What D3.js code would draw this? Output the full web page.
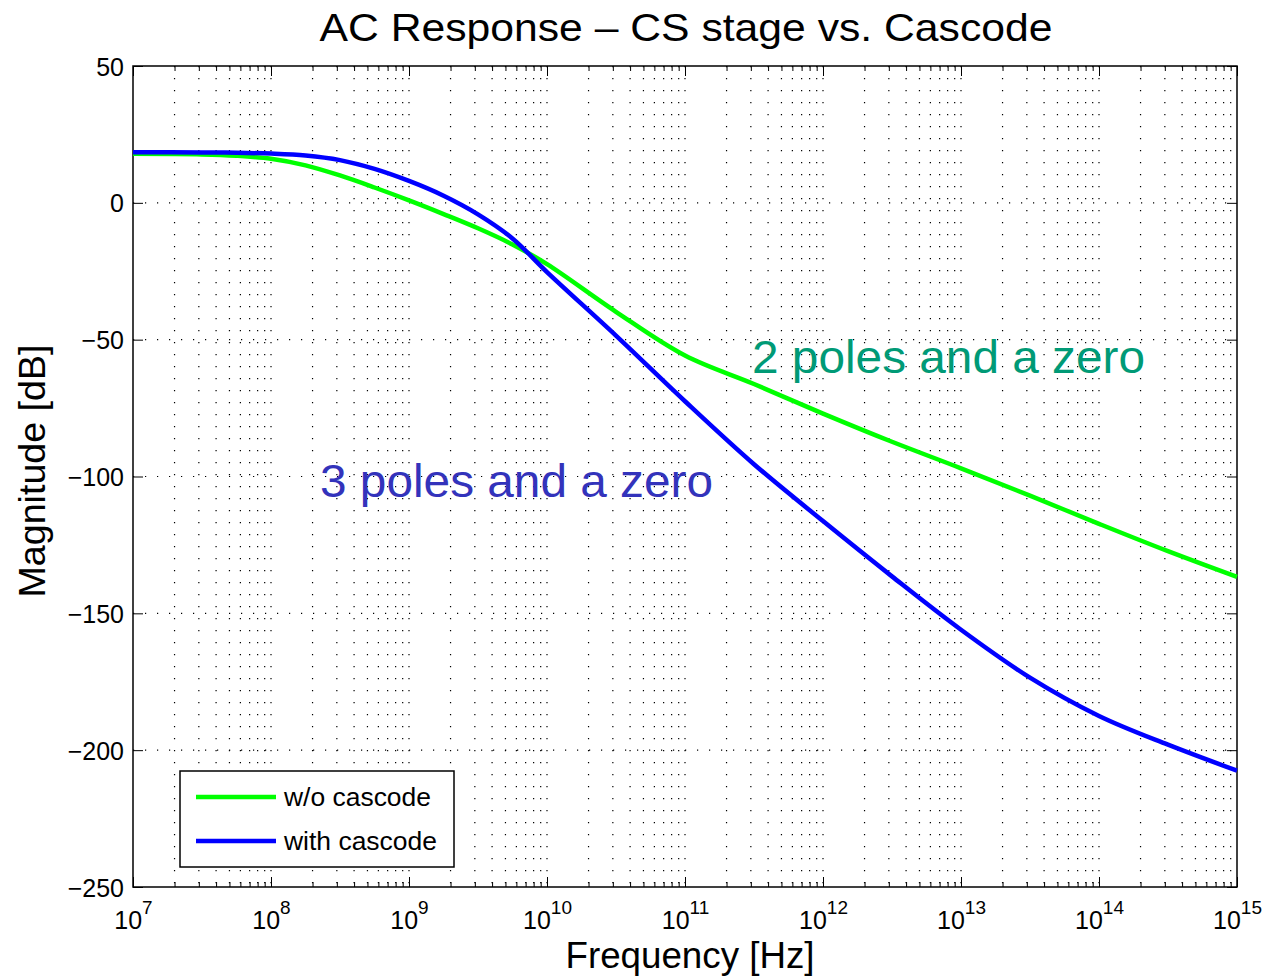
<!DOCTYPE html>
<html lang="en">
<head>
    <meta charset="UTF-8">
    <title>AC Response</title>
    <script src="https://cdn.jsdelivr.net/npm/d3@7"></script>
    <style>
        body { margin: 0; background: #fff; }
        text { font-family: "Liberation Sans", Arial, sans-serif; }
        .ticks path { stroke: none; }
        .ticks line { stroke: #000; stroke-width: 1; }
        .labels path, .labels line { display: none; }
        .labels text { font-size: 25px; fill: #000; }
        .grid line { stroke: #000; stroke-width: 1.2; stroke-dasharray: 1.2,10.8; }
    </style>
</head>
<body>
<script>
    // frequencies [Hz]
    let freq = [1e7, 3.16e7, 5.62e7, 1e8, 1.78e8, 3.16e8, 5.62e8, 1e9, 1.78e9, 3.16e9, 5.62e9, 1e10,
                3.16e10, 1e11, 3.16e11, 1e12, 3.16e12, 1e13, 3.16e13, 1e14, 3.16e14, 1e15]
    let woCascode = [17.9, 17.7, 17.2, 16.1, 13.7, 10.0, 5.6, 0.9, -4.1, -9.3, -15.2, -22.4,
                     -39.8, -55.8, -66.2, -77.0, -87.3, -97.0, -107.0, -117.3, -127.3, -136.7]
    let withCascode = [18.5, 18.4, 18.3, 18.0, 17.3, 15.6, 12.4, 8.0, 2.6, -4.2, -13.0, -25.3,
                       -48.5, -72.5, -95.5, -116.3, -136.5, -156.0, -173.5, -187.5, -198.0, -207.5]
    let seriesNames = ["w/o cascode", "with cascode"]
    let seriesColors = ["#00ff00", "#0000ff"]
    let yTicks = [-250, -200, -150, -100, -50, 0, 50]
    let xTicks = [1e7, 1e8, 1e9, 1e10, 1e11, 1e12, 1e13, 1e14, 1e15]

    let w = 1266, h = 977
    let pLeft = 133, pRight = 1237, pTop = 66, pBottom = 887

    let xScale = d3.scaleLog().domain([1e7, 1e15]).range([pLeft, pRight])
    let yScale = d3.scaleLinear().domain([-250, 50]).range([pBottom, pTop])

    // minor ticks 2..9 in every decade
    let xMinor = []
    for (let e = 7; e < 15; e++) {
        for (let m = 2; m <= 9; m++) xMinor.push(m * Math.pow(10, e))
    }

    let svg = d3.select("body").append("svg")
        .attr("width", w)
        .attr("height", h)

    // grid
    let grid = svg.append("g").attr("class", "grid")
    grid.selectAll("line.v")
        .data(xTicks.concat(xMinor).filter(d => d > 1e7 && d < 1e15))
        .enter().append("line")
        .attr("class", "v")
        .attr("x1", d => xScale(d)).attr("x2", d => xScale(d))
        .attr("y1", pTop).attr("y2", pBottom)
    grid.selectAll("line.h")
        .data(yTicks.filter(d => d > -250 && d < 50))
        .enter().append("line")
        .attr("class", "h")
        .attr("x1", pLeft).attr("x2", pRight)
        .attr("y1", d => yScale(d)).attr("y2", d => yScale(d))

    // inward ticks on all four sides
    svg.append("g").attr("class", "ticks")
        .attr("transform", "translate(0," + pBottom + ")")
        .call(d3.axisBottom(xScale).tickValues(xTicks).tickSize(-10).tickFormat(""))
    svg.append("g").attr("class", "ticks")
        .attr("transform", "translate(0," + pBottom + ")")
        .call(d3.axisBottom(xScale).tickValues(xMinor).tickSize(-5).tickFormat(""))
    svg.append("g").attr("class", "ticks")
        .attr("transform", "translate(0," + pTop + ")")
        .call(d3.axisTop(xScale).tickValues(xTicks).tickSize(-10).tickFormat(""))
    svg.append("g").attr("class", "ticks")
        .attr("transform", "translate(0," + pTop + ")")
        .call(d3.axisTop(xScale).tickValues(xMinor).tickSize(-5).tickFormat(""))
    svg.append("g").attr("class", "ticks")
        .attr("transform", "translate(" + pLeft + ",0)")
        .call(d3.axisLeft(yScale).tickValues(yTicks).tickSize(-10).tickFormat(""))
    svg.append("g").attr("class", "ticks")
        .attr("transform", "translate(" + pRight + ",0)")
        .call(d3.axisRight(yScale).tickValues(yTicks).tickSize(-10).tickFormat(""))

    // tick labels
    svg.append("g").attr("class", "labels")
        .attr("transform", "translate(" + pLeft + ",0)")
        .call(d3.axisLeft(yScale).tickValues(yTicks).tickSize(0).tickPadding(9)
            .tickFormat(d => d < 0 ? "\u2212" + Math.abs(d) : d))
        .selectAll("text").attr("dy", "0.36em")

    let xl = svg.append("g").attr("class", "labels")
        .attr("transform", "translate(0," + pBottom + ")")
        .call(d3.axisBottom(xScale).tickValues(xTicks).tickSize(0).tickPadding(0))
    xl.selectAll("text")
        .attr("y", 42).attr("dy", null)
        .text(null)
        .each(function (d) {
            let t = d3.select(this)
            t.append("tspan").text("10")
            t.append("tspan").attr("dy", -15).attr("font-size", 19).text(Math.round(Math.log10(d)))
        })

    // frame
    svg.append("rect")
        .attr("x", pLeft).attr("y", pTop)
        .attr("width", pRight - pLeft).attr("height", pBottom - pTop)
        .attr("fill", "none").attr("stroke", "#000").attr("stroke-width", 1.5)

    // curves
    let line = d3.line()
        .x((d, i) => xScale(freq[i]))
        .y(d => yScale(d))
        .curve(d3.curveCatmullRom.alpha(0.5))

    svg.append("path").datum(woCascode)
        .attr("d", line).attr("fill", "none")
        .attr("stroke", seriesColors[0]).attr("stroke-width", 4.5)
    svg.append("path").datum(withCascode)
        .attr("d", line).attr("fill", "none")
        .attr("stroke", seriesColors[1]).attr("stroke-width", 4.5)

    // annotations
    svg.append("text").attr("x", 752).attr("y", 373)
        .attr("font-size", 46).attr("fill", "#009a76")
        .attr("textLength", 393).attr("lengthAdjust", "spacingAndGlyphs")
        .text("2 poles and a zero")
    svg.append("text").attr("x", 320).attr("y", 497)
        .attr("font-size", 46).attr("fill", "#3333bb")
        .attr("textLength", 393).attr("lengthAdjust", "spacingAndGlyphs")
        .text("3 poles and a zero")

    // legend
    let lg = svg.append("g")
    lg.append("rect")
        .attr("x", 180).attr("y", 771).attr("width", 274).attr("height", 96)
        .attr("fill", "#fff").attr("stroke", "#000").attr("stroke-width", 1.5)
    let legendLen = [147, 153]
    seriesNames.forEach((name, i) => {
        let yy = 797 + i * 44
        lg.append("line")
            .attr("x1", 196).attr("x2", 276).attr("y1", yy).attr("y2", yy)
            .attr("stroke", seriesColors[i]).attr("stroke-width", 4.5)
        lg.append("text").attr("x", 284).attr("y", yy + 9)
            .attr("font-size", 25)
            .attr("textLength", legendLen[i]).attr("lengthAdjust", "spacingAndGlyphs")
            .text(name)
    })

    // titles
    svg.append("text").attr("x", 686).attr("y", 41)
        .attr("text-anchor", "middle").attr("font-size", 39)
        .attr("textLength", 733).attr("lengthAdjust", "spacingAndGlyphs")
        .text("AC Response \u2013 CS stage vs. Cascode")
    svg.append("text").attr("x", 690).attr("y", 968)
        .attr("text-anchor", "middle").attr("font-size", 36)
        .attr("textLength", 249).attr("lengthAdjust", "spacingAndGlyphs")
        .text("Frequency [Hz]")
    svg.append("text")
        .attr("transform", "translate(45,471) rotate(-90)")
        .attr("text-anchor", "middle").attr("font-size", 36)
        .attr("textLength", 253).attr("lengthAdjust", "spacingAndGlyphs")
        .text("Magnitude [dB]")
</script>
</body>
</html>
